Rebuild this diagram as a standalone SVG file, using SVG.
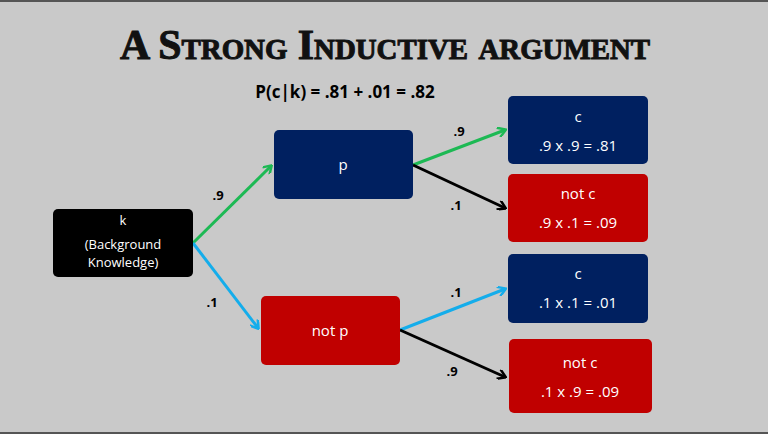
<svg xmlns="http://www.w3.org/2000/svg" width="768" height="434" viewBox="0 0 768 434">
<style>
.t{font-family:"Open Sans","Liberation Sans",sans-serif;fill:#fff;font-size:15px;text-anchor:middle}
.s{font-size:13px}
.l{font-family:"Open Sans","Liberation Sans",sans-serif;fill:#000;font-size:13px;font-weight:bold;text-anchor:middle}
.a{fill:none;stroke-width:3}
</style>
<defs>
<marker id="mg" markerWidth="10" markerHeight="10" refX="8" refY="5" orient="auto" markerUnits="userSpaceOnUse" viewBox="0 0 10 10"><path d="M1,0 L9,5 L1,10" fill="none" stroke="#1DB954" stroke-width="2.5"/></marker>
<marker id="mb" markerWidth="10" markerHeight="10" refX="8" refY="5" orient="auto" markerUnits="userSpaceOnUse" viewBox="0 0 10 10"><path d="M1,0 L9,5 L1,10" fill="none" stroke="#14ADEB" stroke-width="2.5"/></marker>
<marker id="mk" markerWidth="10" markerHeight="10" refX="8" refY="5" orient="auto" markerUnits="userSpaceOnUse" viewBox="0 0 10 10"><path d="M1,0 L9,5 L1,10" fill="none" stroke="#000" stroke-width="2.5"/></marker>
</defs>
<rect width="768" height="434" fill="#c9c9c9"/>
<line x1="0" y1="1" x2="768" y2="1" stroke="#555" stroke-width="2"/>
<line x1="0" y1="433" x2="768" y2="433" stroke="#555" stroke-width="2"/>
<text x="120" y="59" textLength="530" lengthAdjust="spacingAndGlyphs" font-family="Liberation Serif,serif" font-weight="bold" font-size="42" style="font-variant:small-caps" fill="#111" stroke="#111" stroke-width="1">A Strong Inductive argument</text>
<text x="345" y="98" class="l" style="font-size:17px">P(c|k) = .81 + .01 = .82</text>
<g id="connectors">
<line class="a" x1="193" y1="243" x2="271" y2="166" stroke="#1DB954" marker-end="url(#mg)"/>
<line class="a" x1="193" y1="243" x2="258" y2="328" stroke="#14ADEB" marker-end="url(#mb)"/>
<line class="a" x1="413" y1="165" x2="505" y2="130" stroke="#1DB954" marker-end="url(#mg)"/>
<line class="a" x1="413" y1="165" x2="505" y2="208" stroke="#000" marker-end="url(#mk)"/>
<line class="a" x1="400" y1="330" x2="505" y2="289" stroke="#14ADEB" marker-end="url(#mb)"/>
<line class="a" x1="400" y1="330" x2="505" y2="377" stroke="#000" marker-end="url(#mk)"/>
<text class="l" x="218" y="200">.9</text>
<text class="l" x="212" y="307">.1</text>
<text class="l" x="459" y="136">.9</text>
<text class="l" x="456" y="210">.1</text>
<text class="l" x="456" y="297">.1</text>
<text class="l" x="452" y="376">.9</text>
</g>
<g id="k"><rect x="53" y="209" width="140" height="68" rx="5" fill="#000"/>
<text class="t s" x="123" y="225">k</text><text class="t s" x="123" y="249">(Background</text><text class="t s" x="123" y="267">Knowledge)</text></g>
<g id="p"><rect x="274" y="130" width="139" height="69" rx="5" fill="#002060"/><text class="t" x="343" y="170">p</text></g>
<g id="notp"><rect x="261" y="296" width="139" height="69" rx="5" fill="#C00000"/><text class="t" x="330" y="336">not p</text></g>
<g id="c1"><rect x="508" y="96" width="140" height="68" rx="5" fill="#002060"/><text class="t" x="578" y="122">c</text><text class="t" x="578" y="151">.9 x .9 = .81</text></g>
<g id="notc1"><rect x="508" y="174" width="140" height="68" rx="5" fill="#C00000"/><text class="t" x="578" y="199">not c</text><text class="t" x="578" y="228">.9 x .1 = .09</text></g>
<g id="c2"><rect x="508" y="254" width="140" height="69" rx="5" fill="#002060"/><text class="t" x="578" y="279">c</text><text class="t" x="578" y="308">.1 x .1 = .01</text></g>
<g id="notc2"><rect x="509" y="339" width="143" height="74" rx="5" fill="#C00000"/><text class="t" x="580" y="368">not c</text><text class="t" x="580" y="397">.1 x .9 = .09</text></g>
</svg>
